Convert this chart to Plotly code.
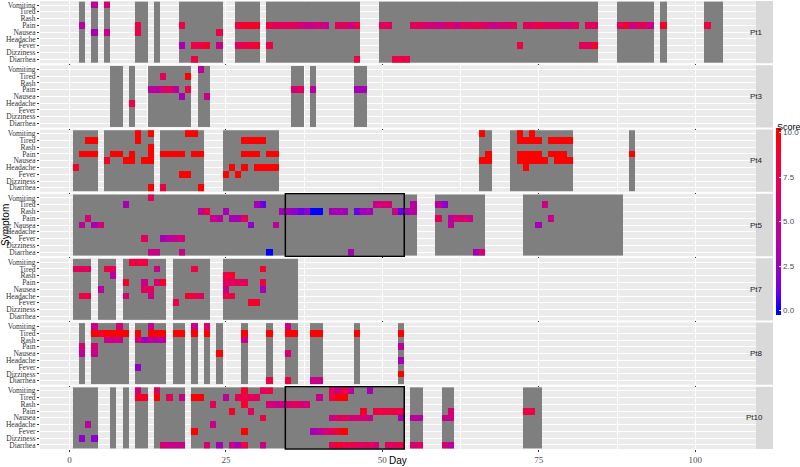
import plotly.graph_objects as go
from plotly.subplots import make_subplots

symptoms = ["Vomiting", "Tired", "Rash", "Pain", "Nausea", "Headache", "Fever", "Dizziness", "Diarrhea"]
patients = ["Pt1", "Pt3", "Pt4", "Pt5", "Pt7", "Pt8", "Pt10"]

# days with a diary entry, as (first day, last day) blocks
pt1_blocks = [(2, 2), (4, 4), (6, 6), (11, 12), (14, 14), (18, 24), (27, 30), (32, 46), (50, 84), (88, 93), (95, 95), (102, 104)]
pt3_blocks = [(7, 8), (10, 10), (13, 19), (21, 22), (36, 37), (39, 39), (46, 47)]
pt4_blocks = [(1, 4), (6, 13), (15, 21), (25, 33), (66, 67), (71, 80), (90, 90)]
pt5_blocks = [(1, 55), (59, 66), (73, 88)]
pt7_blocks = [(1, 3), (5, 7), (9, 15), (17, 22), (25, 36)]
pt8_blocks = [(2, 2), (4, 9), (11, 15), (17, 18), (20, 20), (22, 22), (24, 24), (28, 28), (32, 32), (35, 36), (39, 40), (46, 46), (53, 53)]
pt10_blocks = [(1, 4), (7, 7), (9, 9), (11, 12), (14, 18), (20, 53), (55, 56), (60, 61), (73, 75)]

# symptom scores {day: score}
pt1_scores = {
    "Vomiting": {4: 4, 6: 6},
    "Pain": {2: 4, 11: 8, 18: 8, 27: 8, 28: 9, 29: 9, 30: 9, 32: 8, 33: 7, 34: 7, 35: 7, 36: 7, 37: 6, 38: 5, 39: 5,
             40: 6, 41: 5, 43: 7, 44: 7, 45: 5, 46: 8, 50: 7, 51: 7, 55: 7, 56: 7, 57: 6, 58: 6, 59: 5, 60: 6, 61: 7,
             62: 5, 63: 7, 64: 7, 65: 8, 66: 7, 67: 6, 68: 5, 69: 6, 70: 6, 71: 7, 73: 7, 74: 7, 75: 8, 76: 7, 77: 7,
             78: 7, 79: 6, 80: 6, 81: 7, 83: 7, 84: 7, 88: 7, 89: 9, 90: 5, 91: 7, 92: 7, 93: 5, 95: 9, 102: 8},
    "Nausea": {4: 3, 6: 5, 11: 8, 24: 8},
    "Fever": {18: 3, 20: 8, 21: 8, 22: 9, 24: 5, 27: 7, 28: 8, 29: 8, 30: 9, 32: 8, 72: 8, 82: 7, 83: 7, 84: 9},
    "Diarrhea": {20: 8, 46: 8, 52: 8, 53: 8, 54: 8},
}
pt3_scores = {
    "Vomiting": {21: 4},
    "Tired": {15: 7, 19: 10},
    "Pain": {13: 4, 14: 4, 15: 6, 16: 7, 17: 4, 19: 8, 36: 6, 37: 7, 39: 4, 46: 3, 47: 3},
    "Nausea": {18: 3, 22: 5},
    "Headache": {10: 8},
}
pt4_scores = {
    "Vomiting": {11: 10, 13: 10, 19: 10, 20: 10, 66: 10, 72: 10, 74: 10},
    "Tired": {3: 10, 4: 10, 11: 10, 28: 10, 29: 10, 30: 10, 31: 10, 72: 10, 73: 10, 74: 10, 75: 10,
              77: 10, 78: 10, 79: 10, 80: 10},
    "Rash": {13: 10},
    "Pain": {2: 10, 3: 10, 4: 10, 7: 10, 8: 10, 10: 10, 13: 10, 15: 10, 16: 10, 17: 10, 18: 10, 20: 10, 21: 10,
             28: 10, 29: 10, 30: 10, 32: 10, 33: 10, 67: 10, 72: 10, 73: 10, 74: 10, 75: 10, 77: 10, 78: 10,
             79: 10, 90: 10},
    "Nausea": {6: 9, 9: 10, 10: 10, 12: 10, 13: 10, 66: 10, 67: 10, 72: 10, 73: 10, 74: 10, 75: 10, 76: 10,
               78: 10, 79: 10, 80: 10},
    "Headache": {1: 9, 26: 10, 28: 10, 30: 10, 31: 10, 32: 10, 33: 10, 73: 10},
    "Fever": {18: 10, 19: 10, 25: 10, 27: 10},
    "Diarrhea": {13: 10, 15: 8, 21: 10},
}
pt5_scores = {
    "Vomiting": {13: 7},
    "Tired": {9: 3, 30: 3, 31: 1, 49: 5, 50: 6, 51: 6, 55: 4, 59: 4, 60: 2, 76: 5},
    "Rash": {21: 4, 22: 8, 25: 3, 34: 3, 35: 3, 36: 2, 37: 1, 38: 2, 39: 0, 40: 0, 42: 3, 43: 3, 44: 3, 46: 1,
             47: 3, 48: 3, 52: 5, 53: 1, 54: 3, 55: 4},
    "Pain": {3: 6, 23: 5, 24: 4, 26: 3, 27: 3, 28: 7, 59: 7, 61: 4, 62: 6, 63: 6, 64: 5, 77: 5},
    "Nausea": {2: 4, 4: 3, 5: 6, 29: 2, 33: 4, 61: 4, 75: 3},
    "Fever": {12: 7, 15: 3, 16: 4, 17: 5, 18: 6},
    "Diarrhea": {13: 5, 14: 5, 18: 5, 32: 0, 45: 3, 65: 3, 66: 6},
}
pt7_scores = {
    "Vomiting": {10: 8, 11: 8, 12: 8},
    "Tired": {1: 7, 2: 7, 3: 7, 6: 8, 7: 7, 14: 5, 20: 8, 31: 9},
    "Rash": {7: 4, 25: 8, 26: 9},
    "Pain": {9: 9, 12: 5, 14: 6, 15: 9, 25: 7, 26: 7, 27: 7, 28: 7, 31: 8},
    "Nausea": {5: 4, 12: 7, 13: 7, 25: 5, 31: 3},
    "Headache": {2: 8, 3: 8, 9: 6, 13: 5, 19: 9, 20: 8, 21: 7, 25: 8, 26: 8},
    "Fever": {17: 8, 29: 9, 30: 9},
}
pt8_scores = {
    "Vomiting": {4: 5, 8: 6, 13: 5, 20: 5, 22: 6, 35: 5},
    "Tired": {4: 10, 5: 9, 6: 10, 7: 10, 8: 10, 9: 10, 11: 10, 13: 10, 14: 10, 15: 10, 17: 10, 18: 10, 20: 10,
              22: 10, 28: 10, 32: 10, 35: 10, 36: 10, 39: 10, 40: 10, 46: 10, 53: 10},
    "Rash": {6: 5, 7: 5, 8: 5, 11: 6, 12: 3, 13: 4, 14: 4, 15: 4, 28: 5},
    "Pain": {2: 6, 4: 6, 53: 4},
    "Nausea": {2: 4, 4: 5, 24: 10, 35: 6},
    "Headache": {53: 3},
    "Fever": {11: 2},
    "Dizziness": {53: 10},
    "Diarrhea": {32: 8, 35: 8, 39: 5, 40: 5},
}
pt10_scores = {
    "Vomiting": {11: 6, 14: 7, 28: 9, 31: 7, 32: 8, 42: 7, 43: 5, 44: 8, 45: 4, 48: 3},
    "Tired": {11: 9, 12: 9, 14: 10, 16: 7, 18: 5, 20: 10, 21: 10, 25: 4, 27: 7, 28: 8, 29: 7, 30: 7, 40: 5,
              42: 8, 43: 10, 44: 10},
    "Rash": {23: 7, 28: 9, 32: 6, 33: 5, 34: 5, 35: 6, 36: 7, 37: 6, 38: 6},
    "Pain": {26: 9, 29: 7, 47: 9, 49: 8, 50: 8, 51: 8, 52: 8, 53: 8, 61: 6, 73: 8, 74: 8},
    "Nausea": {31: 8, 42: 5, 43: 7, 44: 7, 45: 6, 46: 6, 47: 6, 48: 5, 53: 3, 55: 4, 56: 4, 60: 5, 61: 5},
    "Headache": {3: 4, 23: 5},
    "Fever": {20: 10, 28: 10, 39: 3, 40: 4, 41: 6, 42: 7, 43: 9, 44: 10},
    "Dizziness": {2: 2, 4: 2},
    "Diarrhea": {15: 6, 16: 5, 17: 5, 18: 5, 22: 6, 24: 3, 26: 5, 27: 3, 28: 8, 31: 5, 42: 7, 43: 9, 44: 8,
                 45: 8, 46: 7, 47: 7, 48: 7, 49: 6, 51: 7, 52: 7, 53: 8, 55: 6, 56: 7, 60: 6, 61: 4},
}

blocks = [pt1_blocks, pt3_blocks, pt4_blocks, pt5_blocks, pt7_blocks, pt8_blocks, pt10_blocks]
scores = [pt1_scores, pt3_scores, pt4_scores, pt5_scores, pt7_scores, pt8_scores, pt10_scores]
boxed = {"Pt5": (35, 53), "Pt10": (35, 53)}


# blue -> red through CIELAB, like ggplot's scale_fill_gradient
def to_lab(rgb):
    def lin(c):
        c = c / 255
        return c / 12.92 if c <= 0.04045 else ((c + 0.055) / 1.055) ** 2.4
    r, g, b = map(lin, rgb)
    x = (0.4124 * r + 0.3576 * g + 0.1805 * b) / 0.95047
    y = 0.2126 * r + 0.7152 * g + 0.0722 * b
    z = (0.0193 * r + 0.1192 * g + 0.9505 * b) / 1.08883
    f = lambda t: t ** (1 / 3) if t > 0.008856 else 7.787 * t + 16 / 116
    return (116 * f(y) - 16, 500 * (f(x) - f(y)), 200 * (f(y) - f(z)))


def from_lab(L, a, b):
    fy = (L + 16) / 116
    fx = fy + a / 500
    fz = fy - b / 200
    finv = lambda t: t ** 3 if t ** 3 > 0.008856 else (t - 16 / 116) / 7.787
    x, y, z = finv(fx) * 0.95047, finv(fy), finv(fz) * 1.08883
    r = 3.2406 * x - 1.5372 * y - 0.4986 * z
    g = -0.9689 * x + 1.8758 * y + 0.0415 * z
    bb = 0.0557 * x - 0.2040 * y + 1.0570 * z

    def gam(c):
        c = min(max(c, 0), 1)
        return 255 * (12.92 * c if c <= 0.0031308 else 1.055 * c ** (1 / 2.4) - 0.055)
    return "rgb(%d,%d,%d)" % tuple(round(gam(c)) for c in (r, g, bb))


cmin, cmax = -0.23, 10.28
lo, hi = to_lab((0, 0, 255)), to_lab((255, 0, 0))
cscale = [[0, "rgb(0,0,255)"]]
for k in range(11):
    t = k / 10
    col = from_lab(*[lo[i] + (hi[i] - lo[i]) * t for i in range(3)])
    cscale.append([(10 * t - cmin) / (cmax - cmin), col])
cscale.append([1, "rgb(255,0,0)"])

days = list(range(0, 106))
fig = make_subplots(rows=7, cols=1, shared_xaxes=True, vertical_spacing=0.0045)

for p, name in enumerate(patients):
    present = set()
    for a, b in blocks[p]:
        present.update(range(a, b + 1))
    zgray = [[1 if d in present else None for d in days] for s in symptoms]
    zscore = [[scores[p].get(s, {}).get(d) for d in days] for s in symptoms]
    fig.add_trace(go.Heatmap(x=days, y=list(range(9)), z=zgray, zmin=0, zmax=1,
                             colorscale=[[0, "#7F7F7F"], [1, "#7F7F7F"]], showscale=False,
                             hoverinfo="skip"), row=p + 1, col=1)
    fig.add_trace(go.Heatmap(x=days, y=list(range(9)), z=zscore, coloraxis="coloraxis",
                             hovertemplate="Day %{x}<br>Score %{z}<extra>" + name + "</extra>"),
                  row=p + 1, col=1)
    yref = "y" if p == 0 else "y%d" % (p + 1)
    fig.add_shape(type="rect", xref="paper", yref=yref + " domain", x0=1.0, x1=1.0237, y0=0, y1=1,
                  fillcolor="#D9D9D9", line_width=0, layer="below")
    fig.add_annotation(text=name, xref="paper", yref=yref + " domain", x=1.0119, y=0.5, showarrow=False,
                       font=dict(size=8, color="#1A1A1A"))
    if name in boxed:
        x0, x1 = boxed[name]
        xref = "x" if p == 0 else "x%d" % (p + 1)
        fig.add_shape(type="rect", xref=xref, yref=yref + " domain", x0=x0 - 0.5, x1=x1 + 0.5, y0=0, y1=1,
                      line=dict(color="black", width=1.5))

fig.update_yaxes(range=[8.6, -0.6], tickvals=list(range(9)), ticktext=symptoms, automargin=False,
                 tickfont=dict(family="Liberation Serif", size=7.5, color="#333333"),
                 showgrid=True, gridcolor="white", gridwidth=1, zeroline=False,
                 ticks="outside", ticklen=2, tickcolor="#333333")
fig.update_xaxes(range=[-4.7, 109.7], tickvals=[0, 25, 50, 75, 100], automargin=False,
                 tickfont=dict(family="Liberation Serif", size=9, color="#4D4D4D"),
                 showgrid=True, gridcolor="white", gridwidth=1, zeroline=False,
                 ticks="outside", ticklen=2, tickcolor="#333333",
                 minor=dict(tickvals=[12.5, 37.5, 62.5, 87.5], showgrid=True, gridcolor="white", gridwidth=0.5))

fig.add_annotation(text="Symptom", xref="paper", yref="paper", x=(5 - 40) / 716, y=0.5, textangle=-90,
                   xanchor="center", yanchor="middle", showarrow=False, font=dict(size=10, color="black"))
fig.add_annotation(text="Day", xref="paper", yref="paper", x=0.5, y=(449 - 460.5) / 448, yanchor="middle",
                   showarrow=False, font=dict(size=10, color="black"))
fig.add_annotation(text="Score", xref="paper", yref="paper", x=(776 - 40) / 716, y=(449 - 127) / 448,
                   xanchor="left", yanchor="middle", showarrow=False, xshift=-1,
                   font=dict(size=9, color="black"))

fig.update_layout(
    width=800, height=467,
    margin=dict(l=40, r=44, t=1, b=18, autoexpand=False),
    plot_bgcolor="#EBEBEB", paper_bgcolor="white",
    font=dict(family="Liberation Sans"),
    coloraxis=dict(
        cmin=cmin, cmax=cmax, colorscale=cscale,
        colorbar=dict(x=776 / 800, xref="container", xanchor="left",
                      y=1 - 230.5 / 467, yref="container", yanchor="middle",
                      len=187, lenmode="pixels", thickness=5, outlinewidth=0, xpad=0, ypad=0,
                      tickvals=[0, 2.5, 5, 7.5, 10], ticktext=["0.0", "2.5", "5.0", "7.5", "10.0"],
                      ticks="inside", ticklen=2, tickcolor="white",
                      tickfont=dict(size=8, color="#4D4D4D")),
    ),
)

# the page body has a default 8px margin; drop it so the figure fills the window
fig.write_html("out.html", config={"displayModeBar": False},
               post_script="document.body.style.margin='0';document.body.style.overflow='hidden';")
